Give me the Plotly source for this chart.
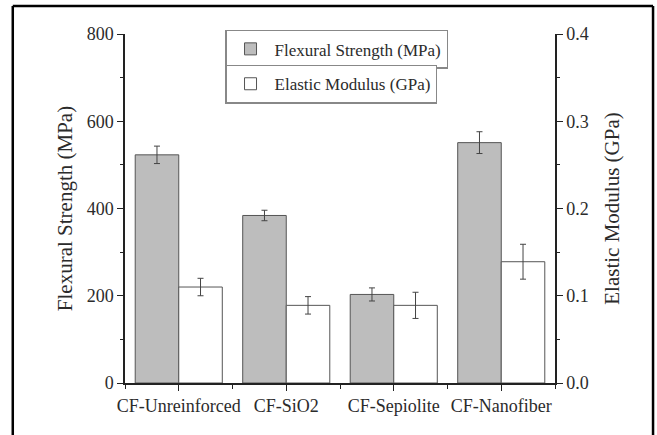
import plotly.graph_objects as go

categories = ["CF-Unreinforced", "CF-SiO2", "CF-Sepiolite", "CF-Nanofiber"]
flexural = [523, 384, 203, 551]
flexural_err = [20, 12, 15, 25]
modulus = [0.110, 0.089, 0.089, 0.139]
modulus_err = [0.010, 0.010, 0.015, 0.020]

xpos = list(range(len(categories)))
FONT = "Liberation Serif"
TXT = "#2b2b2b"

fig = go.Figure()
fig.add_trace(go.Bar(
    x=xpos, y=flexural, name="Flexural Strength (MPa)",
    marker=dict(color="#bdbdbd", line=dict(color="#555555", width=1)),
    error_y=dict(type="data", array=flexural_err, color="#444444", thickness=1, width=3),
    offsetgroup="a", yaxis="y", legend="legend", showlegend=True,
))
fig.add_trace(go.Bar(
    x=xpos, y=modulus, name="Elastic Modulus (GPa)",
    marker=dict(color="#ffffff", line=dict(color="#555555", width=1)),
    error_y=dict(type="data", array=modulus_err, color="#444444", thickness=1, width=3),
    offsetgroup="b", yaxis="y2", legend="legend2", showlegend=True,
))

axis_common = dict(
    showline=True, linecolor="#222222", linewidth=1.5, showgrid=False, zeroline=False,
    ticks="outside", ticklen=6, tickwidth=1.2, tickcolor="#222222",
    tickfont=dict(family=FONT, size=18, color=TXT),
)

frame = dict(xref="paper", yref="paper", line=dict(color="black", width=2.5), layer="above")

fig.update_layout(
    width=657, height=435,
    margin=dict(l=125, r=102, t=34, b=52, autoexpand=False),
    paper_bgcolor="white", plot_bgcolor="white",
    showlegend=True,
    barmode="group", bargap=0.19, bargroupgap=0,
    font=dict(family=FONT, color=TXT),
    xaxis=dict(
        **axis_common, range=[-0.5, 3.5], tickvals=xpos, ticktext=categories,
        minor=dict(ticks="outside", ticklen=4, dtick=0.5, tick0=0.5, tickcolor="#222222"),
    ),
    yaxis=dict(
        **axis_common, range=[0, 800], tickvals=[0, 200, 400, 600, 800],
        minor=dict(ticks="outside", ticklen=3, dtick=100, tickcolor="#222222"),
        title=dict(text="Flexural Strength (MPa)", font=dict(family=FONT, size=21, color=TXT), standoff=8),
    ),
    yaxis2=dict(
        **axis_common, range=[0, 0.4], overlaying="y", side="right",
        tickvals=[0, 0.1, 0.2, 0.3, 0.4], tickformat=".1f",
        minor=dict(ticks="outside", ticklen=3, dtick=0.05, tickcolor="#222222"),
        title=dict(text="Elastic Modulus (GPa)", font=dict(family=FONT, size=21, color=TXT), standoff=16),
    ),
    legend=dict(
        x=0.2326, y=1.012, xanchor="left", yanchor="top",
        bordercolor="#888888", borderwidth=1.5, bgcolor="white",
        font=dict(family=FONT, size=17, color=TXT), itemwidth=38,
        tracegroupgap=0, visible=True,
    ),
    legend2=dict(
        x=0.2326, y=0.912, xanchor="left", yanchor="top",
        bordercolor="#888888", borderwidth=1.5, bgcolor="white",
        font=dict(family=FONT, size=17, color=TXT), itemwidth=38,
        tracegroupgap=0, visible=True,
    ),
    shapes=[
        dict(type="line", x0=-0.261, x1=1.228, y0=1.08, y1=1.08, **frame),
        dict(type="line", x0=-0.261, x1=-0.261, y0=-0.17, y1=1.08, **frame),
        dict(type="line", x0=1.228, x1=1.228, y0=-0.17, y1=1.08, **frame),
    ],
)

fig.write_html(
    "out.html",
    config={"displayModeBar": False},
    post_script=(
        "document.documentElement.style.margin='0';"
        "document.documentElement.style.overflow='hidden';"
        "document.body.style.margin='0';"
        "document.body.style.overflow='hidden';"
    ),
)
